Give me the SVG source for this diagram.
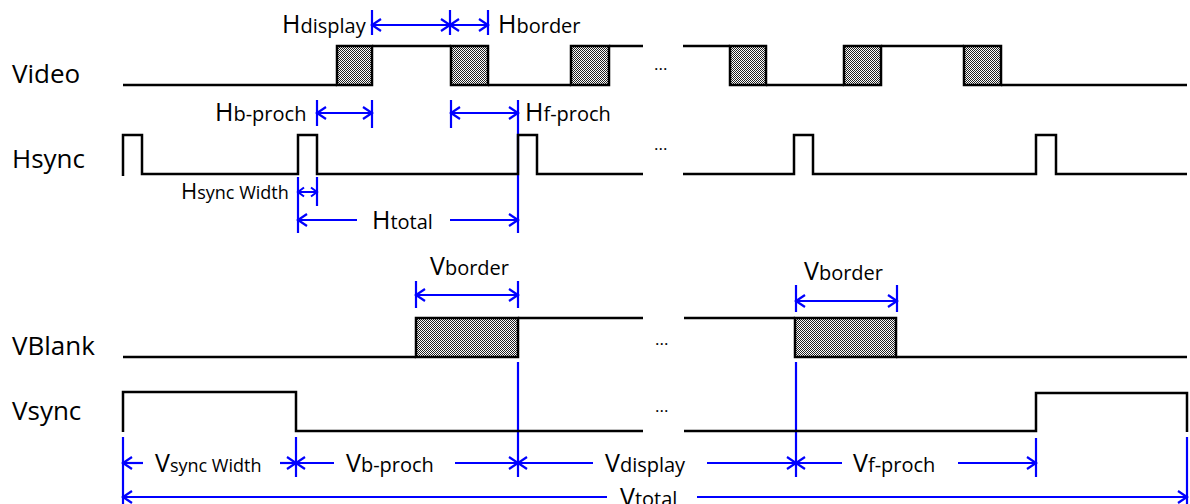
<svg xmlns="http://www.w3.org/2000/svg" width="1190" height="504" viewBox="0 0 1190 504">
<style>
.lbl{font-family:"Open Sans","Liberation Sans",sans-serif;font-size:26px;fill:#000}
.big{font-family:"Open Sans","Liberation Sans",sans-serif;font-size:25px;fill:#000}
.sm{font-size:20px}
.xs{font-size:18px}
.dots{font-family:"Open Sans","Liberation Sans",sans-serif;font-size:17px;fill:#000}
.w{fill:none;stroke:#000;stroke-width:2.5;stroke-linejoin:miter}
.box{fill:url(#hp);stroke:#000;stroke-width:2.5}
.b{fill:none;stroke:#0000ff;stroke-width:2.2}
.d{fill:none;stroke:#0000ff;stroke-width:2.2;marker-end:url(#ah)}
.dd{fill:none;stroke:#0000ff;stroke-width:2.2;marker-start:url(#ah);marker-end:url(#ah)}
.ds{fill:none;stroke:#0000ff;stroke-width:2;marker-start:url(#as);marker-end:url(#as)}
</style>
<defs>
<pattern id="hp" width="2" height="2" patternUnits="userSpaceOnUse">
<rect width="2" height="2" fill="#fff"/>
<rect width="1" height="1" fill="#222"/>
<rect x="1" y="1" width="1" height="1" fill="#222"/>
</pattern>
<marker id="ah" viewBox="-12 -8 14 16" refX="0" refY="0" markerWidth="14" markerHeight="16" markerUnits="userSpaceOnUse" orient="auto-start-reverse">
<path d="M-9,-6 L0,0 L-9,6" fill="none" stroke="#0000ff" stroke-width="2.2"/>
</marker>
<marker id="as" viewBox="-8 -6 10 12" refX="0" refY="0" markerWidth="10" markerHeight="12" markerUnits="userSpaceOnUse" orient="auto-start-reverse">
<path d="M-6,-4.5 L0,0 L-6,4.5" fill="none" stroke="#0000ff" stroke-width="2"/>
</marker>
</defs>
<rect width="1190" height="504" fill="#fff"/>

<g id="connectors">
<!-- H dimensions -->
<line class="b" x1="372" y1="10" x2="372" y2="35"/>
<line class="b" x1="450" y1="10" x2="450" y2="35"/>
<line class="b" x1="488" y1="10" x2="488" y2="35"/>
<line class="dd" x1="372" y1="25" x2="450" y2="25"/>
<line class="dd" x1="450" y1="25" x2="488" y2="25"/>
<line class="b" x1="317" y1="100" x2="317" y2="126"/>
<line class="b" x1="372" y1="100" x2="372" y2="128"/>
<line class="dd" x1="317" y1="113" x2="372" y2="113"/>
<line class="b" x1="451" y1="100" x2="451" y2="128"/>
<line class="b" x1="518" y1="100" x2="518" y2="233"/>
<line class="dd" x1="451" y1="113" x2="518" y2="113"/>
<line class="b" x1="298" y1="177" x2="298" y2="233"/>
<line class="b" x1="317" y1="177" x2="317" y2="206"/>
<line class="ds" x1="298" y1="192" x2="317" y2="192"/>
<line class="d" x1="357" y1="220" x2="298" y2="220"/>
<line class="d" x1="450" y1="220" x2="518" y2="220"/>
<!-- V border -->
<line class="b" x1="416" y1="281" x2="416" y2="308"/>
<line class="b" x1="518" y1="281" x2="518" y2="308"/>
<line class="dd" x1="416" y1="295" x2="518" y2="295"/>
<line class="b" x1="796" y1="285" x2="796" y2="312"/>
<line class="b" x1="897" y1="285" x2="897" y2="312"/>
<line class="dd" x1="796" y1="301" x2="897" y2="301"/>
<!-- V bottom -->
<line class="b" x1="518" y1="362" x2="518" y2="477"/>
<line class="b" x1="796" y1="362" x2="796" y2="477"/>
<line class="b" x1="123" y1="437" x2="123" y2="504"/>
<line class="b" x1="296" y1="437" x2="296" y2="477"/>
<line class="b" x1="1036" y1="438" x2="1036" y2="477"/>
<line class="b" x1="1187" y1="437" x2="1187" y2="504"/>
<line class="d" x1="143" y1="463" x2="123" y2="463"/>
<line class="d" x1="280" y1="463" x2="296" y2="463"/>
<line class="d" x1="334" y1="463" x2="296" y2="463"/>
<line class="d" x1="455" y1="463" x2="518" y2="463"/>
<line class="d" x1="593" y1="463" x2="518" y2="463"/>
<line class="d" x1="707" y1="463" x2="796" y2="463"/>
<line class="d" x1="842" y1="463" x2="796" y2="463"/>
<line class="d" x1="958" y1="463" x2="1036" y2="463"/>
<line class="d" x1="607" y1="497" x2="123" y2="497"/>
<line class="d" x1="697" y1="497" x2="1187" y2="497"/>
</g>

<g id="video">
<text class="lbl" x="12" y="83">Video</text>
<path class="w" d="M123,85 H337 M372,46 H451 M488,85 H571 M609,46 H643"/>
<rect class="box" x="337" y="46" width="35" height="39"/>
<rect class="box" x="451" y="46" width="37" height="39"/>
<rect class="box" x="571" y="46" width="38" height="39"/>
<text class="dots" x="654" y="70">...</text>
<path class="w" d="M683,46 H730 M766,85 H844 M881,46 H964 M1001,85 H1187"/>
<rect class="box" x="730" y="46" width="36" height="39"/>
<rect class="box" x="844" y="46" width="37" height="39"/>
<rect class="box" x="964" y="46" width="37" height="39"/>
</g>

<g id="hsync">
<text class="lbl" x="12" y="168">Hsync</text>
<path class="w" d="M123,176 V135 H142 V174 H298 V135 H317 V174 H518 V135 H537 V174 H643"/>
<text class="dots" x="654" y="150">...</text>
<path class="w" d="M683,174 H794 V135 H813 V174 H1036 V135 H1056 V174 H1187"/>
</g>

<g id="vblank">
<text class="lbl" x="12" y="355">VBlank</text>
<path class="w" d="M123,357 H416 M518,318 H643"/>
<rect class="box" x="416" y="318" width="102" height="39"/>
<text class="dots" x="655" y="345">...</text>
<path class="w" d="M684,318 H795 M896,357 H1187"/>
<rect class="box" x="795" y="318" width="101" height="39"/>
</g>

<g id="vsync">
<text class="lbl" x="12" y="420">Vsync</text>
<path class="w" d="M123,432 V392 H296 V431 H643"/>
<text class="dots" x="655" y="412">...</text>
<path class="w" d="M684,431 H1036 V393 H1187 V432"/>
</g>

<g id="labels">
<text class="big" x="282" y="33">H<tspan class="sm">display</tspan></text>
<text class="big" x="498" y="33">H<tspan class="sm">border</tspan></text>
<text class="big" x="215" y="121">H<tspan class="sm">b-proch</tspan></text>
<text class="big" x="525" y="121">H<tspan class="sm">f-proch</tspan></text>
<text class="big" x="181" y="199" style="font-size:22px">H<tspan class="xs">sync Width</tspan></text>
<text class="big" x="372" y="229">H<tspan class="sm">total</tspan></text>
<text class="big" x="430" y="275">V<tspan class="sm">border</tspan></text>
<text class="big" x="804" y="280">V<tspan class="sm">border</tspan></text>
<text class="big" x="155" y="472">V<tspan class="xs">sync Width</tspan></text>
<text class="big" x="346" y="472">V<tspan class="sm">b-proch</tspan></text>
<text class="big" x="605" y="472">V<tspan class="sm">display</tspan></text>
<text class="big" x="853" y="472">V<tspan class="sm">f-proch</tspan></text>
<text class="big" x="620" y="506">V<tspan class="sm">total</tspan></text>
</g>
</svg>
